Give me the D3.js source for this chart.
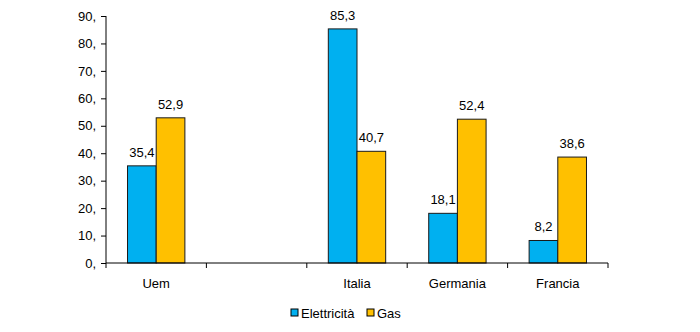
<!DOCTYPE html>
<html><head><meta charset="utf-8">
<script src="https://cdn.jsdelivr.net/npm/d3@7"></script>
<style>body{margin:0;background:#fff}svg{display:block}text{font-family:"Liberation Sans",Arial,sans-serif;fill:#000}</style>
</head><body><svg width="700" height="332"></svg>
<script>
const categories = ["Uem", "", "Italia", "Germania", "Francia"];
const series = ["Elettricità", "Gas"];
const elettricita = [35.4, null, 85.3, 18.1, 8.2];
const gas = [52.9, null, 40.7, 52.4, 38.6];
const yTicks = [0, 10, 20, 30, 40, 50, 60, 70, 80, 90];
const colors = ["#00B0F0", "#FFC000"];

const svg = d3.select("svg");
const FS = "13px";
const x0 = 106, x1 = 608, yTop = 16, yBot = 263;
const x = d3.scaleBand().domain(d3.range(categories.length)).range([x0, x1]).paddingInner(0).paddingOuter(0);
const bw = x.bandwidth();
const xs = d3.scaleBand().domain(series).range([bw * 0.2143, bw * 0.7857]).paddingInner(0).paddingOuter(0);
const y = d3.scaleLinear().domain([0, 90]).range([yBot, yTop]);
const fmt = v => String(v.toFixed(1)).replace(".", ",");

// y axis
const yAxis = d3.axisLeft(y).tickValues(yTicks).tickSize(5).tickPadding(5).tickFormat(d => d + ",");
const gy = svg.append("g").attr("transform", `translate(${x0},0)`).call(yAxis);
gy.selectAll("path,line").attr("stroke", "#000");
gy.select(".domain").attr("d", `M0,${yBot}V${yTop}`);
gy.selectAll("text").style("font-size", FS).style("font-family", '"Liberation Sans",Arial,sans-serif');

// bars
const data = [elettricita, gas];
categories.forEach((c, i) => {
  series.forEach((s, j) => {
    const v = data[j][i];
    if (v == null) return;
    const bx = x(i) + xs(s);
    svg.append("rect").attr("x", bx).attr("y", y(v)).attr("width", xs.bandwidth()).attr("height", yBot - y(v))
      .attr("fill", colors[j]).attr("stroke", "#1a1a1a").attr("stroke-width", 1);
    svg.append("text").attr("x", bx + xs.bandwidth() / 2).attr("y", y(v) - 9).attr("text-anchor", "middle")
      .style("font-size", FS).text(fmt(v));
  });
});

// x axis
const gx = svg.append("g").attr("transform", `translate(0,${yBot})`);
gx.append("path").attr("d", `M${x0},0H${x1}`).attr("stroke", "#000");
d3.range(categories.length + 1).forEach(k => {
  const tx = k < categories.length ? x(k) : x1;
  gx.append("line").attr("x1", tx).attr("x2", tx).attr("y1", 0).attr("y2", 5).attr("stroke", "#000");
});
categories.forEach((c, i) => {
  gx.append("text").attr("x", x(i) + x.bandwidth() / 2).attr("y", 25).attr("text-anchor", "middle")
    .style("font-size", FS).text(c);
});

// legend
const legend = svg.append("g").attr("transform", "translate(291,313)");
const lx = [0, 76];
series.forEach((s, j) => {
  const g = legend.append("g").attr("transform", `translate(${lx[j]},0)`);
  g.append("rect").attr("x", 0).attr("y", -4).attr("width", 7).attr("height", 7).attr("fill", colors[j]).attr("stroke", "#000");
  g.append("text").attr("x", 10).attr("y", 5).style("font-size", FS).text(s);
});
</script></body></html>
